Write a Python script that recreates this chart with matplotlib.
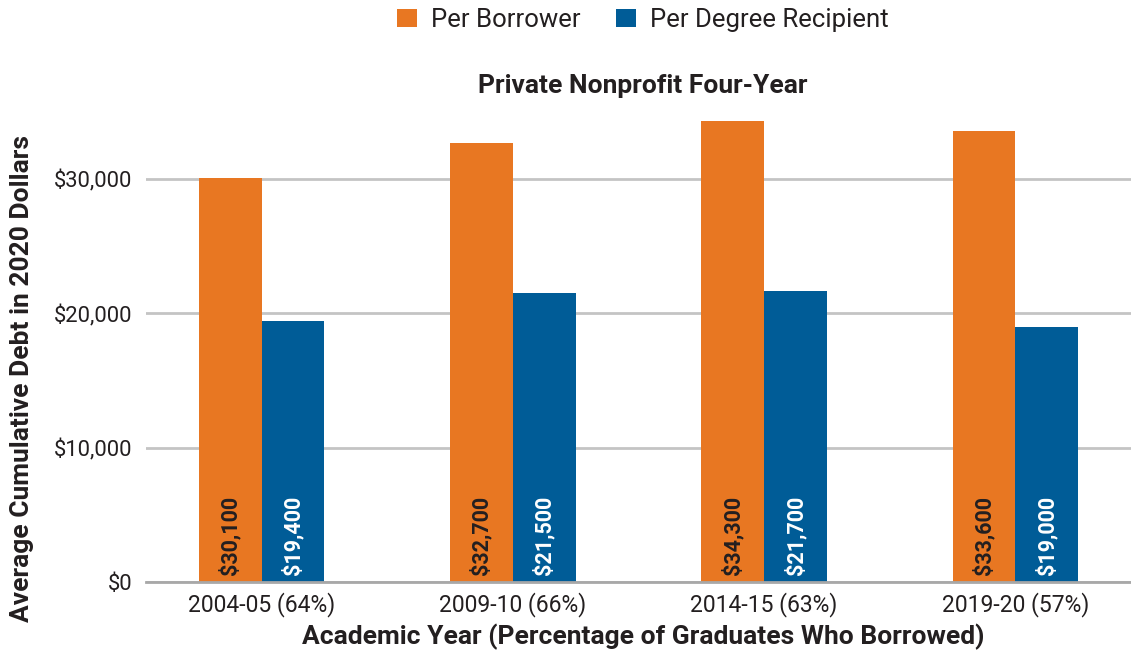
import numpy as np
import matplotlib.pyplot as plt
from matplotlib.ticker import FuncFormatter

plt.rcParams['font.family'] = ['Roboto', 'DejaVu Sans']

years = ['2004-05 (64%)', '2009-10 (66%)', '2014-15 (63%)', '2019-20 (57%)']
per_borrower = [30100, 32700, 34300, 33600]
per_degree = [19400, 21500, 21700, 19000]

orange = '#E87722'
blue = '#005C97'
dark = '#231F20'

fig = plt.figure(figsize=(11.31, 6.55), dpi=100)
ax = fig.add_axes([146 / 1131, 1 - 582 / 655, (1131 - 146) / 1131, (582 - 112) / 655])

x = np.arange(len(years))
w = 0.25
b1 = ax.bar(x - w / 2, per_borrower, w, color=orange, label='Per Borrower', zorder=3)
b2 = ax.bar(x + w / 2, per_degree, w, color=blue, label='Per Degree Recipient', zorder=3)

# value labels at the foot of each bar
for rect, v in zip(b1, per_borrower):
    ax.text(rect.get_x() + rect.get_width() / 2, 500, f'${v:,}', rotation=90,
            ha='center', va='bottom', color=dark, fontsize=15.5,
            fontweight='bold', zorder=4)
for rect, v in zip(b2, per_degree):
    ax.text(rect.get_x() + rect.get_width() / 2, 500, f'${v:,}', rotation=90,
            ha='center', va='bottom', color='white', fontsize=15.5,
            fontweight='bold', zorder=4)

ax.set_xlim(-0.46, 3.46)
ax.set_ylim(0, 35000)
ax.set_yticks([0, 10000, 20000, 30000])
ax.yaxis.set_major_formatter(FuncFormatter(lambda v, p: f'${v:,.0f}'))
ax.set_xticks(x)
ax.set_xticklabels(years)
ax.tick_params(axis='both', length=0, labelcolor=dark)
ax.tick_params(axis='x', pad=7, labelsize=16.5)
ax.tick_params(axis='y', pad=10, labelsize=15.8)
ax.grid(axis='y', color='#C4C4C4', linewidth=2, zorder=0)
for s in ['top', 'right', 'left']:
    ax.spines[s].set_visible(False)
ax.spines['bottom'].set_color('#A8A8A8')
ax.spines['bottom'].set_linewidth(2)
ax.spines['bottom'].set_zorder(5)

fig.text(643 / 1131, 1 - 86 / 655, 'Private Nonprofit Four-Year', ha='center', va='center',
         fontsize=19, fontweight='bold', color=dark)
fig.text(643 / 1131, 1 - 637 / 655, 'Academic Year (Percentage of Graduates Who Borrowed)',
         ha='center', va='center', fontsize=19, fontweight='bold', color=dark)
fig.text(22 / 1131, 1 - 378 / 655, 'Average Cumulative Debt in 2020 Dollars', rotation=90,
         ha='center', va='center', fontsize=19, fontweight='bold', color=dark)

fig.legend(handles=[b1, b2], loc='center', bbox_to_anchor=(643 / 1131, 1 - 20 / 655),
           ncol=2, frameon=False, fontsize=18.5, handlelength=0.75, handleheight=0.75,
           columnspacing=1.4, handletextpad=0.55, labelcolor=dark)

fig.savefig('out.png', dpi=100)
